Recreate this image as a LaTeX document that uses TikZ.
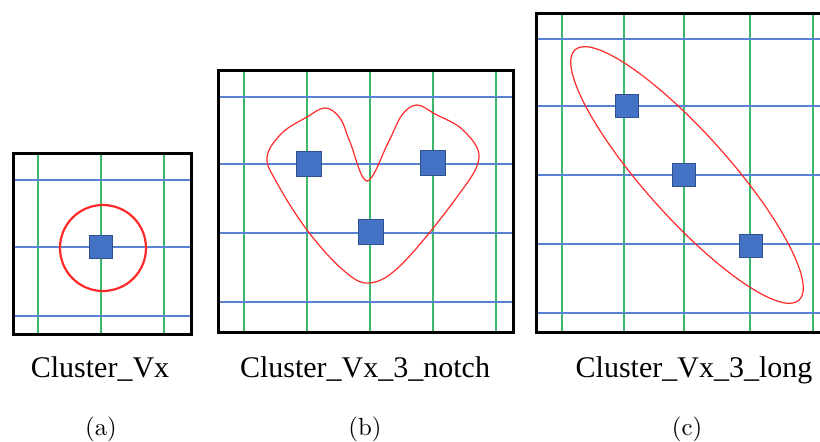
\documentclass[tikz,border=0pt]{standalone}
\usepackage{fontspec}
\newfontfamily\capfont{Liberation Serif}
\newfontfamily\tagfont{lmroman10-regular.otf}
\usepackage{xcolor}
\definecolor{gridgreen}{HTML}{3DB86B}
\definecolor{gridblue}{HTML}{5A82D2}
\definecolor{vxblue}{HTML}{4472C4}
\definecolor{vxedge}{HTML}{2F528F}
\definecolor{clred}{HTML}{FF2A2A}
\usepackage{tikz}
\usetikzlibrary{positioning}
\tikzset{
  frame/.style  ={draw=black,line width=3pt},
  gline/.style  ={draw=gridgreen,line width=1.4pt},
  bline/.style  ={draw=gridblue,line width=1.4pt},
  vx/.style     ={draw=vxedge,fill=vxblue,line width=0.6pt,
                  minimum size=23pt,inner sep=0pt},
  cluster/.style={draw=clred,line width=1.2pt},
  clname/.style ={font=\capfont\fontsize{30}{36}\selectfont,
                  inner sep=0pt,anchor=base},
  subcap/.style ={font=\tagfont\fontsize{24.8}{30}\selectfont,
                  inner sep=0pt,anchor=base},
}

\begin{document}
\begin{tikzpicture}[x=1pt,y=-1pt]
\useasboundingbox (0,0) rectangle (820,442);
%======================= (a): Cluster_Vx ========================
\foreach \gx in {38,101,164} \draw[gline] (\gx,153) -- (\gx,334);
\foreach \gy in {180,247,316} \draw[bline] (13,\gy) -- (191,\gy);
\node[vx] (a1) at (101,247) {};
\draw[cluster,line width=2.2pt] (103,248) circle[radius=43];
\draw[frame] (13,153) rectangle (191,334);
\node[clname] (na) at (100,377) {Cluster\_Vx};
\node[subcap] (ta) at (101,435.5) {(a)};
%======================= (b): Cluster_Vx_3_notch ================
\foreach \gx in {244,307,370,433,496} \draw[gline] (\gx,70) -- (\gx,332);
\foreach \gy in {97,164,233,302} \draw[bline] (218,\gy) -- (513,\gy);
\node[vx,minimum size=25pt] (b1) at (309,164) {};
\node[vx,minimum size=25pt] (b2) at (433,163) {};
\node[vx,minimum size=25pt] (b3) at (371,232) {};
\draw[cluster] plot[smooth cycle,tension=0.6] coordinates {
  (267,157) (282,133) (307,117) (325,108) (340,118) (350,142)
  (367,181) (388,143) (402,115) (417,105) (435,114) (463,130)
  (479,158) (457,197) (403,263) (370,283) (343,270) (307,230)
  (277,183)};
\draw[frame] (218,70) rectangle (513,332);
\node[clname] (nb) at (365,377) {Cluster\_Vx\_3\_notch};
\node[subcap] (tb) at (365,435.5) {(b)};
%======================= (c): Cluster_Vx_3_long =================
\foreach \gx in {562,624,684,750,813} \draw[gline] (\gx,13) -- (\gx,332);
\foreach \gy in {39,106,175,244,313} \draw[bline] (536,\gy) -- (830,\gy);
\node[vx] (c1) at (627,106) {};
\node[vx] (c2) at (684,175) {};
\node[vx] (c3) at (751,246) {};
\draw[cluster,rotate around={-48.2:(687,175)}] (687,175)
  ellipse[x radius=168,y radius=42];
\draw[frame] (830,13) -- (536,13) -- (536,332) -- (830,332);
\node[clname] (nc) at (694,377) {Cluster\_Vx\_3\_long};
\node[subcap] (tc) at (687,435.5) {(c)};
\end{tikzpicture}
\end{document}
